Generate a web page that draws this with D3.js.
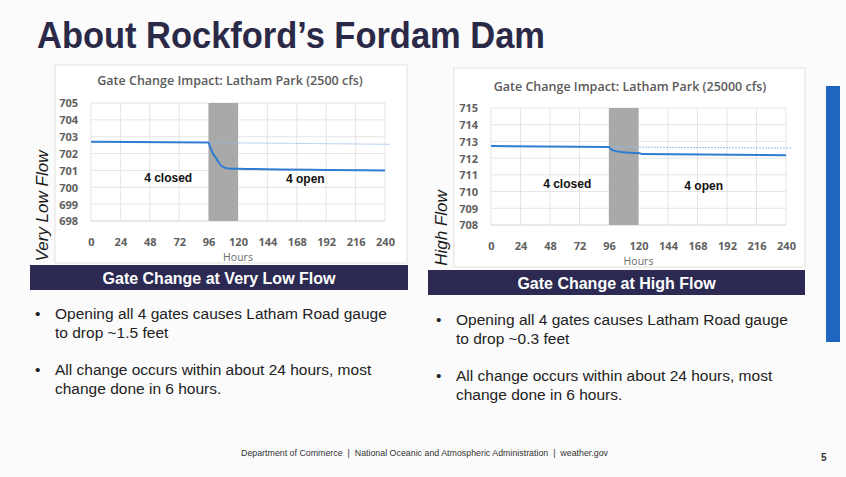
<!DOCTYPE html>
<html>
<head>
<meta charset="utf-8">
<script src="https://cdn.jsdelivr.net/npm/d3@7"></script>
<style>
  body { margin: 0; background: #fbfbfb; }
  svg { display: block; }
</style>
</head>
<body>
<div id="slide"></div>
<script>
// Tick values
const hourTicks = [0, 24, 48, 72, 96, 120, 144, 168, 192, 216, 240];
const lowFlowTicks = [698, 699, 700, 701, 702, 703, 704, 705];
const highFlowTicks = [708, 709, 710, 711, 712, 713, 714, 715];

// Latham Park stage, 2500 cfs (gates opened at hour 96)
const lowFlowHours = [0, 96, 97, 98, 100, 102, 104, 106, 108, 112, 120, 240];
const lowFlowStage = [702.7, 702.65, 702.45, 702.25, 701.95, 701.75, 701.5, 701.3, 701.2, 701.12, 701.1, 701.0];
const lowFlowBaseHours = [96, 244];
const lowFlowBaseStage = [702.65, 702.55];

// Latham Park stage, 25000 cfs
const highFlowHours = [0, 96, 97, 99, 102, 106, 110, 116, 121, 123, 240];
const highFlowStage = [712.72, 712.67, 712.58, 712.48, 712.42, 712.37, 712.34, 712.31, 712.3, 712.25, 712.18];
const highFlowBaseHours = [96, 244];
const highFlowBaseStage = [712.67, 712.6];

// Gate change window and annotations
const gateBand = [96, 120];
const gateLabels = ["4 closed", "4 open"];
const lowLabelHours = [63, 175];
const lowLabelStage = [700.3, 700.25];
const highLabelHours = [62, 173];
const highLabelStage = [710.2, 710.1];

const W = 846, H = 477;
const svg = d3.select("#slide").append("svg")
    .attr("width", W)
    .attr("height", H);

svg.append("rect").attr("width", W).attr("height", H).attr("fill", "#fbfbfb");

// Slide title
svg.append("text")
    .attr("x", 37)
    .attr("y", 48)
    .attr("font-family", "Liberation Sans, Arial, sans-serif")
    .attr("font-weight", "bold")
    .attr("font-size", "37px")
    .attr("textLength", 508)
    .attr("lengthAdjust", "spacingAndGlyphs")
    .attr("fill", "#2a2947")
    .text("About Rockford\u2019s Fordam Dam");

// Right accent bar
svg.append("rect")
    .attr("x", 826).attr("y", 86)
    .attr("width", 14).attr("height", 256)
    .attr("fill", "#1f66c1");

function drawPanel(p) {
    const g = svg.append("g");

    // chart area
    g.append("rect")
        .attr("x", p.box.x).attr("y", p.box.y)
        .attr("width", p.box.w).attr("height", p.box.h)
        .attr("fill", "#ffffff")
        .attr("stroke", "#e2e2e2");

    const x = d3.scaleLinear().domain([0, 240]).range([p.left, p.right]);
    const y = d3.scaleLinear().domain(p.domain).range([p.bottom, p.top]);

    // gridlines
    g.append("g").selectAll("line.h")
        .data(p.yTicks)
        .enter().append("line")
        .attr("x1", x(0)).attr("x2", x(240))
        .attr("y1", d => y(d)).attr("y2", d => y(d))
        .attr("stroke", d => d === p.domain[0] ? "#c8c8c8" : "#dedede")
        .attr("stroke-width", 0.8);
    g.append("g").selectAll("line.v")
        .data(hourTicks)
        .enter().append("line")
        .attr("x1", d => x(d)).attr("x2", d => x(d))
        .attr("y1", y(p.domain[0])).attr("y2", y(p.domain[1]))
        .attr("stroke", "#dedede")
        .attr("stroke-width", 0.8);

    // gate change band
    g.append("rect")
        .attr("x", x(gateBand[0]))
        .attr("y", y(p.domain[1]))
        .attr("width", x(gateBand[1]) - x(gateBand[0]))
        .attr("height", y(p.domain[0]) - y(p.domain[1]))
        .attr("fill", "#a9a9a9");

    // axes
    const yAxis = g.append("g")
        .attr("transform", `translate(${p.left - 10},0)`)
        .call(d3.axisLeft(y).tickValues(p.yTicks).tickFormat(d3.format("d")).tickSize(0));
    yAxis.select(".domain").remove();
    yAxis.selectAll("text")
        .attr("font-family", "Open Sans, sans-serif")
        .attr("font-weight", "bold")
        .attr("font-size", "11px")
        .attr("fill", "#5f5f5f")
        .attr("dy", "0.35em");

    const xAxis = g.append("g")
        .attr("transform", `translate(0,${p.bottom + 14})`)
        .call(d3.axisBottom(x).tickValues(hourTicks).tickFormat(d3.format("d")).tickSize(0));
    xAxis.select(".domain").remove();
    xAxis.selectAll("text")
        .attr("font-family", "Open Sans, sans-serif")
        .attr("font-weight", "bold")
        .attr("font-size", "11px")
        .attr("fill", "#5f5f5f");

    g.append("text")
        .attr("x", (p.left + p.right) / 2)
        .attr("y", p.bottom + 40)
        .attr("text-anchor", "middle")
        .attr("font-family", "Open Sans, sans-serif")
        .attr("font-size", "10.5px")
        .attr("fill", "#6a6a6a")
        .text("Hours");

    // chart title
    g.append("text")
        .attr("x", p.titleX)
        .attr("y", p.titleY)
        .attr("text-anchor", "middle")
        .attr("font-family", "Open Sans, sans-serif")
        .attr("font-weight", 600)
        .attr("font-size", "12.5px")
        .attr("fill", "#5a5a5a")
        .text(p.title);

    const line = d3.line().x(d => x(d[0])).y(d => y(d[1]));

    // no-change reference
    g.append("path")
        .datum(d3.zip(p.baseHours, p.baseStage))
        .attr("d", line)
        .attr("fill", "none")
        .attr("stroke", "#8fb8e6")
        .attr("stroke-width", 0.9)
        .attr("stroke-dasharray", "2,1");

    // stage
    g.append("path")
        .datum(d3.zip(p.hours, p.stage))
        .attr("d", d3.line().curve(d3.curveMonotoneX).x(d => x(d[0])).y(d => y(d[1])))
        .attr("fill", "none")
        .attr("stroke", "#2f7dd3")
        .attr("stroke-width", 2);

    // annotations
    gateLabels.forEach((t, i) => {
        g.append("text")
            .attr("x", x(p.labelHours[i]))
            .attr("y", y(p.labelStage[i]))
            .attr("text-anchor", "middle")
            .attr("font-family", "Liberation Sans, Arial, sans-serif")
            .attr("font-weight", "bold")
            .attr("font-size", "12px")
            .attr("fill", "#111")
            .text(t);
    });

    // side label
    g.append("text")
        .attr("transform", `translate(${p.sideX},${p.sideY}) rotate(-90)`)
        .attr("text-anchor", "middle")
        .attr("font-family", "Liberation Sans, Arial, sans-serif")
        .attr("font-style", "italic")
        .attr("font-size", "17px")
        .attr("fill", "#1a1a1a")
        .text(p.side);

    // banner
    g.append("rect")
        .attr("x", p.banner.x).attr("y", p.banner.y)
        .attr("width", p.banner.w).attr("height", p.banner.h)
        .attr("fill", "#2c2a52");
    g.append("text")
        .attr("x", p.banner.x + p.banner.w / 2)
        .attr("y", p.banner.y + p.banner.h / 2 + 6)
        .attr("text-anchor", "middle")
        .attr("font-family", "Liberation Sans, Arial, sans-serif")
        .attr("font-weight", "bold")
        .attr("font-size", "16px")
        .attr("fill", "#ffffff")
        .text(p.bannerText);

    // bullets
    p.bullets.forEach((b, i) => {
        g.append("text")
            .attr("x", p.bulletX)
            .attr("y", p.bulletY[i])
            .attr("font-family", "Liberation Sans, Arial, sans-serif")
            .attr("font-size", "15.5px")
            .attr("fill", "#222")
            .text("\u2022");
        b.forEach((ln, j) => {
            g.append("text")
                .attr("x", p.bulletX + 20)
                .attr("y", p.bulletY[i] + j * 19)
                .attr("font-family", "Liberation Sans, Arial, sans-serif")
                .attr("font-size", "15.5px")
                .attr("fill", "#222")
                .text(ln);
        });
    });
}

drawPanel({
    box: { x: 55, y: 65, w: 352, h: 198 },
    left: 91, right: 385, top: 103, bottom: 221,
    domain: [698, 705], yTicks: lowFlowTicks,
    hours: lowFlowHours, stage: lowFlowStage,
    baseHours: lowFlowBaseHours, baseStage: lowFlowBaseStage,
    labelHours: lowLabelHours, labelStage: lowLabelStage,
    title: "Gate Change Impact: Latham Park (2500 cfs)",
    titleX: 230, titleY: 85,
    side: "Very Low Flow", sideX: 48, sideY: 206,
    banner: { x: 30, y: 265, w: 378, h: 25 },
    bannerText: "Gate Change at Very Low Flow",
    bulletX: 35, bulletY: [319, 375],
    bullets: [["Opening all 4 gates causes Latham Road gauge", "to drop ~1.5 feet"],
              ["All change occurs within about 24 hours, most", "change done in 6 hours."]]
});

drawPanel({
    box: { x: 454, y: 68, w: 351, h: 199 },
    left: 491, right: 786, top: 108, bottom: 225,
    domain: [708, 715], yTicks: highFlowTicks,
    hours: highFlowHours, stage: highFlowStage,
    baseHours: highFlowBaseHours, baseStage: highFlowBaseStage,
    labelHours: highLabelHours, labelStage: highLabelStage,
    title: "Gate Change Impact: Latham Park (25000 cfs)",
    titleX: 630, titleY: 91,
    side: "High Flow", sideX: 447, sideY: 228,
    banner: { x: 428, y: 270, w: 377, h: 25 },
    bannerText: "Gate Change at High Flow",
    bulletX: 436, bulletY: [325, 381],
    bullets: [["Opening all 4 gates causes Latham Road gauge", "to drop ~0.3 feet"],
              ["All change occurs within about 24 hours, most", "change done in 6 hours."]]
});

// footer
svg.append("text")
    .attr("x", 241)
    .attr("y", 456)
    .attr("font-family", "Liberation Sans, Arial, sans-serif")
    .attr("font-size", "9px")
    .attr("fill", "#333")
    .attr("xml:space", "preserve")
    .attr("textLength", 367)
    .attr("lengthAdjust", "spacingAndGlyphs")
    .text("Department of Commerce  |  National Oceanic and Atmospheric Administration  |  weather.gov");

svg.append("text")
    .attr("x", 821)
    .attr("y", 461)
    .attr("font-family", "Liberation Sans, Arial, sans-serif")
    .attr("font-weight", "bold")
    .attr("font-size", "10px")
    .attr("fill", "#333")
    .text("5");
</script>
</body>
</html>
